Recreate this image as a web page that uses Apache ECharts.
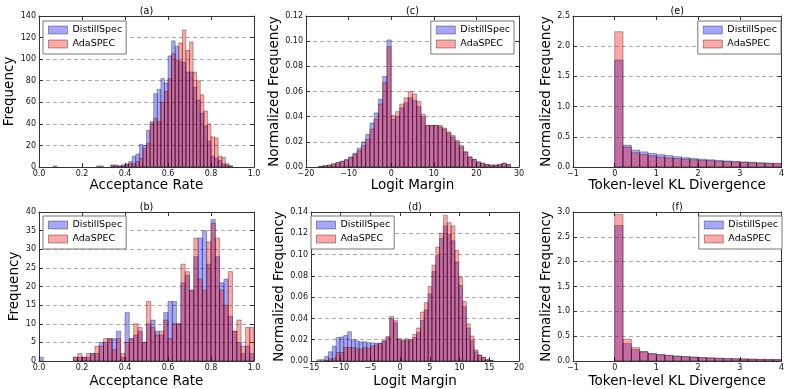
<!DOCTYPE html>
<html>
<head>
<meta charset="utf-8">
<script src="https://cdn.jsdelivr.net/npm/echarts@6/dist/echarts.min.js"></script>
<style>html,body{margin:0;padding:0;background:#fff}#chart{width:787px;height:389px}</style>
</head>
<body>
<div id="chart"></div>
<script>
// ---------------- DATA ----------------
const seriesNames = ['DistillSpec', 'AdaSPEC'];
const panelTitles = ['(a)', '(b)', '(c)', '(d)', '(e)', '(f)'];

// (a) acceptance rate histogram, bins start 0, width 1/60
const aBinStart = 0, aBinWidth = 1 / 60;
const aDistill = [0,0,0,0,1,0,0,0,0,0, 0,0,0,0,0,0,0,1,0,0, 2,1,1,2,3,5,10,12,21,20,
  34,42,68,72,82,78,103,117,112,98, 97,88,88,74,62,50,38,24,10,8, 6,3,2,1,0,0,0,0,0,0];
const aAda = [0,0,0,0,0,0,0,0,0,0, 0,0,0,0,0,0,1,0,0,0, 1,2,1,1,2,3,3,5,8,17,
  22,40,45,42,60,70,82,105,99,115, 127,108,116,88,80,67,52,40,28,27, 10,9,3,1,0,0,0,0,0,0];

// (b) acceptance rate histogram, bins start 0, width 0.02
const bBinStart = 0, bBinWidth = 0.02;
const bDistill = [1,0,0,0,0,0,0,0,1,1, 1,1,2,2,5,5,6,6,8,1, 13,6,7,8,5,10,11,8,7,13,
  16,16,10,21,23,19,28,33,35,26, 38,28,21,22,12,8,5,2,4,2];
const bAda = [0,0,0,0,0,0,0,0,1,2, 1,2,2,4,4,6,6,3,6,2, 5,6,10,9,5,16,9,7,8,11,
  6,10,10,26,24,19,33,22,19,32, 37,33,19,15,24,8,11,4,9,9];

// (c) logit margin, bins start -17, width 1
const cBinStart = -17, cBinWidth = 1;
const cDistill = [0.0005,0.001,0.0015,0.0025,0.0035,0.0045,0.006,0.008,0.011,0.015,0.020,0.026,0.035,0.043,0.054,0.072,0.101,
  0.038,0.040,0.047,0.051,0.055,0.053,0.048,0.040,0.033,0.033,0.033,0.032,0.030,0.027,0.024,0.020,0.016,0.012,0.008,0.006,0.004,0.003,0.002,0.0015,0.0015,0.002,0.003,0.002];
const cAda = [0.0005,0.001,0.0015,0.0025,0.0035,0.0045,0.0055,0.0075,0.010,0.013,0.017,0.022,0.030,0.038,0.050,0.067,0.0956,
  0.041,0.044,0.050,0.055,0.060,0.058,0.052,0.042,0.033,0.033,0.033,0.033,0.031,0.028,0.025,0.021,0.017,0.012,0.008,0.006,0.004,0.003,0.002,0.0015,0.0015,0.002,0.003,0.002];

// (d) logit margin, bins start -14, width 0.645
const dBinStart = -14, dBinWidth = 0.645;
const dDistill = [0.0012,0.0012,0.0043,0.0087,0.014,0.022,0.0226,0.024,0.0275,0.020,0.019,0.018,0.018,0.0173,0.017,0.0168,0.0167,0.019,0.022,0.040,0.036,0.0204,0.019,0.0198,
  0.019,0.022,0.027,0.038,0.048,0.063,0.084,0.099,0.115,0.127,0.119,0.113,0.093,0.071,0.051,0.031,0.019,0.0087,0.0056,0.0034,0.0012,0.0006];
const dAda = [0,0,0.0005,0.002,0.0025,0.008,0.008,0.0127,0.0127,0.0125,0.012,0.011,0.0127,0.012,0.014,0.015,0.0165,0.0185,0.023,0.042,0.038,0.021,0.019,0.021,
  0.020,0.025,0.031,0.046,0.055,0.070,0.090,0.107,0.120,0.137,0.130,0.127,0.104,0.079,0.056,0.035,0.0235,0.0105,0.0056,0.0034,0.0012,0.0006];

// (e) token-level KL, bins start 0, width 0.2
const eBinStart = 0, eBinWidth = 0.2;
const eDistill = [1.77,0.36,0.28,0.25,0.225,0.205,0.19,0.17,0.155,0.14,0.13,0.12,0.11,0.10,0.095,0.085,0.08,0.07,0.065,0.06];
const eAda = [2.24,0.33,0.235,0.205,0.185,0.165,0.15,0.14,0.13,0.12,0.11,0.105,0.095,0.09,0.085,0.075,0.07,0.065,0.06,0.055];

// (f) token-level KL, bins start 0, width 0.2
const fBinStart = 0, fBinWidth = 0.2;
const fDistill = [2.73,0.35,0.23,0.19,0.15,0.13,0.115,0.10,0.09,0.08,0.072,0.065,0.058,0.052,0.048,0.043,0.039,0.035,0.032,0.03];
const fAda = [2.95,0.44,0.27,0.185,0.145,0.125,0.11,0.095,0.085,0.075,0.066,0.058,0.052,0.046,0.042,0.038,0.034,0.031,0.029,0.027];

// axis names
const xNames = ['Acceptance Rate','Acceptance Rate','Logit Margin','Logit Margin','Token-level KL Divergence','Token-level KL Divergence'];
const yNames = ['Frequency','Frequency','Normalized Frequency','Normalized Frequency','Normalized Frequency','Normalized Frequency'];

// ---------------- LAYOUT / STYLE ----------------
const FONT = 'DejaVu Sans';
const fills = ['rgba(0,0,255,0.35)', 'rgba(255,0,0,0.35)'];
const edge = 'rgba(0,0,0,0.35)';
const minus = s => String(s).replace('-', '\u2212');

const panels = [
  {bins:[aBinStart,aBinWidth], data:[aDistill,aAda], grid:{left:39,top:16,width:215,height:151}, xGap:10,
   x:{min:0,max:1,interval:0.2,fmt:v=>v.toFixed(1)}, y:{min:0,max:140,interval:20,fmt:v=>String(Math.round(v)),gap:17},
   legend:{left:43,top:21}},
  {bins:[bBinStart,bBinWidth], data:[bDistill,bAda], grid:{left:39,top:212,width:215,height:151}, xGap:13,
   x:{min:0,max:1,interval:0.2,fmt:v=>v.toFixed(1)}, y:{min:0,max:40,interval:5,fmt:v=>String(Math.round(v)),gap:12},
   legend:{left:43,top:216}},
  {bins:[cBinStart,cBinWidth], data:[cDistill,cAda], grid:{left:306,top:16,width:213,height:151}, xGap:10,
   x:{min:-20,max:30,interval:10,fmt:v=>minus(Math.round(v))}, y:{min:0,max:0.12,interval:0.02,fmt:v=>v.toFixed(2),gap:20},
   legend:{right:273,top:21}},
  {bins:[dBinStart,dBinWidth], data:[dDistill,dAda], grid:{left:311,top:212,width:208,height:151}, xGap:13,
   x:{min:-15,max:20,interval:5,fmt:v=>minus(Math.round(v))}, y:{min:0,max:0.14,interval:0.02,fmt:v=>v.toFixed(2),gap:24},
   legend:{left:311,top:216}},
  {bins:[eBinStart,eBinWidth], data:[eDistill,eAda], grid:{left:573,top:16,width:213,height:151}, xGap:10,
   x:{min:-1,max:4,interval:1,fmt:v=>minus(Math.round(v))}, y:{min:0,max:2.5,interval:0.5,fmt:v=>v.toFixed(1),gap:20},
   legend:{right:6,top:21}},
  {bins:[fBinStart,fBinWidth], data:[fDistill,fAda], grid:{left:573,top:212,width:213,height:151}, xGap:13,
   x:{min:-1,max:4,interval:1,fmt:v=>minus(Math.round(v))}, y:{min:0,max:3.0,interval:0.5,fmt:v=>v.toFixed(1),gap:16},
   legend:{right:5,top:216}}
];

function toBins(start, width, values) {
  const out = [];
  values.forEach((v, i) => { if (v > 0) out.push([start + i * width, start + (i + 1) * width, v]); });
  return out;
}

function renderBar(fill) {
  return function (params, api) {
    const p0 = api.coord([api.value(0), 0]);
    const p1 = api.coord([api.value(1), api.value(2)]);
    return {
      type: 'rect',
      shape: {x: p0[0], y: p1[1], width: p1[0] - p0[0], height: p0[1] - p1[1]},
      style: {fill: fill, stroke: edge, lineWidth: 0.9}
    };
  };
}

const frameColor = '#333';
const option = {animation: false, grid: [], xAxis: [], yAxis: [], series: [], legend: []};

panels.forEach((p, k) => {
  option.grid.push(Object.assign({}, p.grid));
  const tick = {show: true, inside: true, length: 4, lineStyle: {color: frameColor}};
  const line = {show: true, lineStyle: {color: frameColor, width: 1}};
  option.xAxis.push({
    type: 'value', gridIndex: k, position: 'bottom', min: p.x.min, max: p.x.max, interval: p.x.interval,
    axisLine: Object.assign({onZero: false}, line), axisTick: tick, splitLine: {show: false},
    axisLabel: {show: true, margin: 3, fontSize: 8, color: '#111', fontFamily: FONT, formatter: p.x.fmt, hideOverlap: false},
    name: xNames[k], nameLocation: 'middle', nameGap: p.xGap,
    nameTextStyle: {fontSize: 13.5, color: '#000', fontFamily: FONT}
  });
  option.xAxis.push({
    type: 'value', gridIndex: k, position: 'top', min: p.x.min, max: p.x.max, interval: p.x.interval,
    axisLine: Object.assign({onZero: false}, line), axisTick: tick, axisLabel: {show: false}, splitLine: {show: false},
    name: panelTitles[k], nameLocation: 'middle', nameGap: 0,
    nameTextStyle: {fontSize: 9.6, color: '#000', fontFamily: FONT}
  });
  option.yAxis.push({
    type: 'value', gridIndex: k, position: 'left', min: p.y.min, max: p.y.max, interval: p.y.interval,
    axisLine: Object.assign({onZero: false}, line), axisTick: tick,
    splitLine: {show: true, lineStyle: {color: '#aaa', type: [4, 3], width: 1}},
    axisLabel: {show: true, margin: 3, fontSize: 8, color: '#111', fontFamily: FONT, formatter: p.y.fmt},
    name: yNames[k], nameLocation: 'middle', nameGap: p.y.gap, nameRotate: 90,
    nameTextStyle: {fontSize: 13.5, color: '#000', fontFamily: FONT}
  });
  option.yAxis.push({
    type: 'value', gridIndex: k, position: 'right', min: p.y.min, max: p.y.max, interval: p.y.interval,
    axisLine: Object.assign({onZero: false}, line), axisTick: tick, axisLabel: {show: false}, splitLine: {show: false}
  });
  p.data.forEach((vals, s) => {
    option.series.push({
      type: 'custom', name: seriesNames[s], xAxisIndex: 2 * k, yAxisIndex: 2 * k, clip: true,
      itemStyle: {color: fills[s]},
      encode: {x: [0, 1], y: 2},
      data: toBins(p.bins[0], p.bins[1], vals),
      renderItem: renderBar(fills[s])
    });
  });
  option.legend.push(Object.assign({
    orient: 'vertical', data: seriesNames, icon: 'rect', itemWidth: 19, itemHeight: 8, itemGap: 4,
    padding: [4, 4, 5, 5], borderColor: '#777', borderWidth: 1, backgroundColor: '#fff',
    selectedMode: false,
    itemStyle: {borderColor: edge, borderWidth: 1},
    textStyle: {fontSize: 9.5, lineHeight: 10, color: '#000', fontFamily: FONT}
  }, p.legend));
});

const chart = echarts.init(document.getElementById('chart'), null, {renderer: 'canvas'});
chart.setOption(option);
</script>
</body>
</html>
